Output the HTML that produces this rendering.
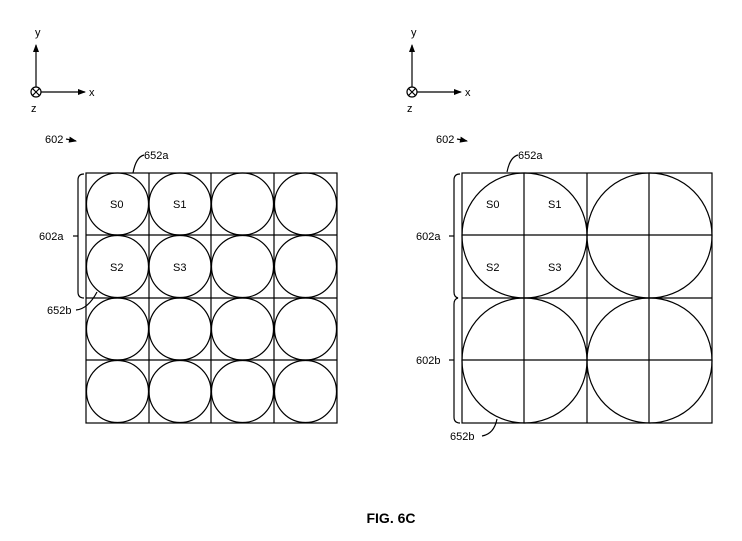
<!DOCTYPE html>
<html><head><style>body{margin:0;background:#fff}svg{display:block}text{font-family:"Liberation Sans",sans-serif;font-size:11px;fill:#000}</style></head><body>
<svg width="742" height="541" viewBox="0 0 742 541" xmlns="http://www.w3.org/2000/svg">
<defs><marker id="a" markerWidth="8" markerHeight="8" refX="7" refY="4" orient="auto" markerUnits="userSpaceOnUse"><path d="M0,1 L8,4 L0,7 Z" fill="#000"/></marker></defs>
<g stroke="#000" fill="none" stroke-width="1.2">
<!-- axes left -->
<line x1="36" y1="87" x2="36" y2="45" marker-end="url(#a)"/>
<line x1="41" y1="92" x2="85" y2="92" marker-end="url(#a)"/>
<circle cx="36" cy="92" r="5"/><path d="M32.5,88.5 L39.5,95.5 M39.5,88.5 L32.5,95.5"/>
<!-- axes right -->
<line x1="412" y1="87" x2="412" y2="45" marker-end="url(#a)"/>
<line x1="417" y1="92" x2="461" y2="92" marker-end="url(#a)"/>
<circle cx="412" cy="92" r="5"/><path d="M408.5,88.5 L415.5,95.5 M415.5,88.5 L408.5,95.5"/>
<!-- 602 arrows -->
<path d="M66,139 L76,141" marker-end="url(#a)"/>
<path d="M457,139 L467,141" marker-end="url(#a)"/>
<!-- left grid -->
<rect x="86" y="173" width="251" height="250"/>
<path d="M149,173V423 M211,173V423 M274,173V423 M86,235H337 M86,298H337 M86,360H337"/>
<g>
<circle cx="117.5" cy="204" r="31"/><circle cx="180" cy="204" r="31"/><circle cx="242.5" cy="204" r="31"/><circle cx="305.5" cy="204" r="31"/>
<circle cx="117.5" cy="266.5" r="31"/><circle cx="180" cy="266.5" r="31"/><circle cx="242.5" cy="266.5" r="31"/><circle cx="305.5" cy="266.5" r="31"/>
<circle cx="117.5" cy="329" r="31"/><circle cx="180" cy="329" r="31"/><circle cx="242.5" cy="329" r="31"/><circle cx="305.5" cy="329" r="31"/>
<circle cx="117.5" cy="391.5" r="31"/><circle cx="180" cy="391.5" r="31"/><circle cx="242.5" cy="391.5" r="31"/><circle cx="305.5" cy="391.5" r="31"/>
</g>
<!-- left brackets/leaders -->
<path d="M84,174 Q78,174 78,180 V292 Q78,298 84,298"/>
<line x1="73" y1="236" x2="78" y2="236"/>
<path d="M133,173 Q136,157 144,155"/>
<path d="M76,310 Q88,309 97,292"/>
<!-- right grid -->
<rect x="462" y="173" width="250" height="250"/>
<path d="M524,173V423 M587,173V423 M649,173V423 M462,235H712 M462,298H712 M462,360H712"/>
<circle cx="524.5" cy="235.5" r="62.5"/><circle cx="649.5" cy="235.5" r="62.5"/>
<circle cx="524.5" cy="360.5" r="62.5"/><circle cx="649.5" cy="360.5" r="62.5"/>
<path d="M460,174 Q454,174 454,180 V292 Q454,297 458,298 Q454,299 454,304 V417 Q454,423 460,423"/>
<line x1="449" y1="236" x2="454" y2="236"/>
<line x1="449" y1="360" x2="454" y2="360"/>
<path d="M507,172 Q510,157 518,155"/>
<path d="M482,436 Q494,434 497,419"/>
</g>
<text x="35" y="36">y</text><text x="89" y="96">x</text><text x="31" y="112">z</text>
<text x="411" y="36">y</text><text x="465" y="96">x</text><text x="407" y="112">z</text>
<text x="45" y="143">602</text><text x="436" y="143">602</text>
<text x="144" y="159">652a</text><text x="518" y="159">652a</text>
<text x="39" y="240">602a</text><text x="416" y="240">602a</text><text x="416" y="364">602b</text>
<text x="47" y="314">652b</text><text x="450" y="440">652b</text>
<text x="110" y="208">S0</text><text x="173" y="208">S1</text><text x="110" y="271">S2</text><text x="173" y="271">S3</text>
<text x="486" y="208">S0</text><text x="548" y="208">S1</text><text x="486" y="271">S2</text><text x="548" y="271">S3</text>
<text x="391" y="523" text-anchor="middle" style="font-size:14px;font-weight:bold">FIG. 6C</text>
</svg>
</body></html>
